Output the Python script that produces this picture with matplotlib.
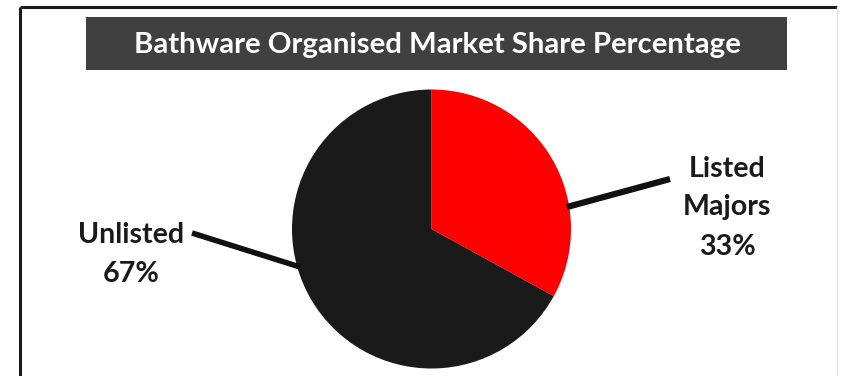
import matplotlib
matplotlib.use("Agg")
import matplotlib.pyplot as plt
from matplotlib.patches import Rectangle

# Data
categories = ["Listed Majors", "Unlisted"]
shares = [33, 67]
label_lines = [["Listed", "Majors"], ["Unlisted"]]
colors = ["#ff0000", "#1a1a1a"]
title = "Bathware Organised Market Share Percentage"

W, H = 841, 376
fig = plt.figure(figsize=(W / 100, H / 100), dpi=100)
ax = fig.add_axes([0, 0, 1, 1])

FONT = ["Lato", "DejaVu Sans"]


def py(y):
    """Convert a top-down pixel row into the axes' bottom-up coordinate."""
    return H - y


# Pie: first slice starts at 12 o'clock and runs clockwise
cx, cy, r = 431.5, py(229), 139.5
ax.pie(shares, colors=colors, startangle=90, counterclock=False,
       center=(cx, cy), radius=r, frame=True,
       wedgeprops=dict(linewidth=0))

ax.set_xlim(0, W)
ax.set_ylim(0, H)
ax.set_aspect("equal")
ax.axis("off")

# Outer frame (top and left dark, right faint)
ax.plot([20.5, 837], [py(6.5), py(6.5)], color="#1a1a1a", lw=2.2,
        solid_capstyle="butt")
ax.plot([20.5, 20.5], [py(6.5), 0], color="#1a1a1a", lw=2.2,
        solid_capstyle="butt")
ax.plot([837, 837], [py(6.5), 0], color="#e2e2e2", lw=1.0)

# Title banner
ax.add_patch(Rectangle((86, py(70)), 787 - 86, 70 - 17,
                       facecolor="#404040", edgecolor="none", zorder=3))

fig.canvas.draw()
renderer = fig.canvas.get_renderer()


def fitted_text(x, y, s, target_w, **kw):
    t = ax.text(x, y, s, fontsize=20, **kw)
    w = t.get_window_extent(renderer).width
    t.set_fontsize(20 * target_w / w)
    return t


fitted_text(437, py(53), title, 609, color="white", fontweight="bold",
            ha="center", va="baseline", family=FONT, zorder=4)

# Slice labels
pct = [f"{v}%" for v in shares]
label_size = None
t = fitted_text(131.5, py(243), label_lines[1][0], 107, color="#1a1a1a",
                fontweight="bold", ha="center", va="baseline", family=FONT)
label_size = t.get_fontsize()

ax.text(131.5, py(282), pct[1], fontsize=label_size, color="#1a1a1a",
        fontweight="bold", ha="center", va="baseline", family=FONT)

right_baselines = [177, 215, 255]
for text, yb in zip(label_lines[0] + [pct[0]], right_baselines):
    ax.text(727, py(yb), text, fontsize=label_size, color="#1a1a1a",
            fontweight="bold", ha="center", va="baseline", family=FONT)

# Leader lines
ax.plot([567, 670], [py(207), py(179)], color="#111111", lw=4.5,
        solid_capstyle="butt", zorder=5)
ax.plot([192, 300], [py(233), py(267)], color="#111111", lw=4.0,
        solid_capstyle="butt", zorder=5)

fig.savefig("out.png", dpi=100)
